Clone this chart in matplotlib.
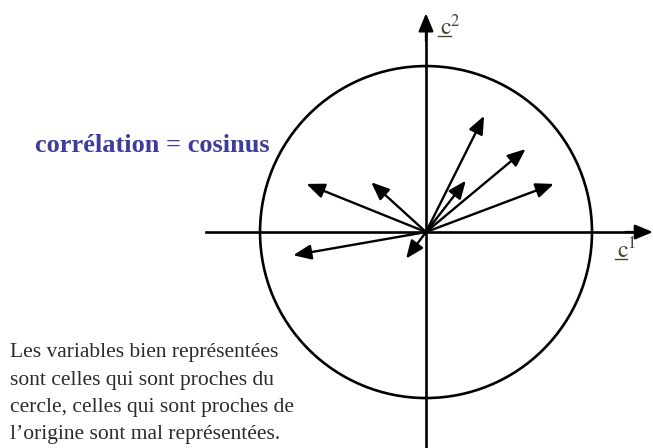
import numpy as np
import matplotlib.pyplot as plt
from matplotlib.patches import Circle

# -------------------- Data (correlations with the two components) --------------------
var_c1 = [-0.72, -0.33, 0.35, 0.60, 0.24, 0.77, -0.80, -0.12]
var_c2 = [0.29, 0.30, 0.70, 0.50, 0.31, 0.29, -0.14, -0.16]

TITLE = "corrélation = cosinus"
NOTE = ("Les variables bien représentées\n"
        "sont celles qui sont proches du\n"
        "cercle, celles qui sont proches de\n"
        "l\u2019origine sont mal représentées.")

# -------------------- Figure --------------------
plt.rcParams['mathtext.fontset'] = 'stix'
fig = plt.figure(figsize=(6.53, 4.48), dpi=100)
ax = fig.add_axes([0, 0, 1, 1])
ax.set_xlim(-2.566, 1.367)
ax.set_ylim(-1.301, 1.398)
ax.set_aspect('equal')
ax.axis('off')

head = dict(arrowstyle='-|>,head_length=0.6,head_width=0.25', mutation_scale=18,
            shrinkA=0, shrinkB=0, color='black', lw=1.7)

# axes with arrows
ax.plot([-1.325, 1.30], [0, 0], color='black', lw=1.9)
ax.annotate('', xy=(1.367, 0), xytext=(1.2, 0), arrowprops=head)
ax.plot([0, 0], [-1.35, 1.25], color='black', lw=1.9)
ax.annotate('', xy=(0, 1.318), xytext=(0, 1.15), arrowprops=head)

# correlation circle
ax.add_patch(Circle((0, 0), 1.0, fill=False, color='black', lw=1.9))

# variable arrows
for x, y in zip(var_c1, var_c2):
    ax.annotate('', xy=(x, y), xytext=(0, 0), arrowprops=head)

# component labels (c with a small bar underneath)
lab_col = '#444433'
ax.text(0.085, 1.235, r'$\mathrm{c}^{2}$', fontsize=17, color=lab_col,
        ha='left', va='center')
ax.plot([0.075, 0.15], [1.18, 1.18], color=lab_col, lw=1.0)
ax.text(1.15, -0.11, r'$\mathrm{c}^{1}$', fontsize=17, color=lab_col,
        ha='left', va='center')
ax.plot([1.14, 1.21], [-0.165, -0.165], color=lab_col, lw=1.0)

# texts
ax.text(-2.355, 0.52, TITLE, fontsize=19, fontweight='bold',
        family='Liberation Serif', color='#3d3d9b', ha='left', va='center')
ax.text(-2.505, -0.67, NOTE, fontsize=15.5, family='Liberation Serif',
        color='#2b2b2b', ha='left', va='top', linespacing=1.6)

fig.savefig('out.png', dpi=100)
